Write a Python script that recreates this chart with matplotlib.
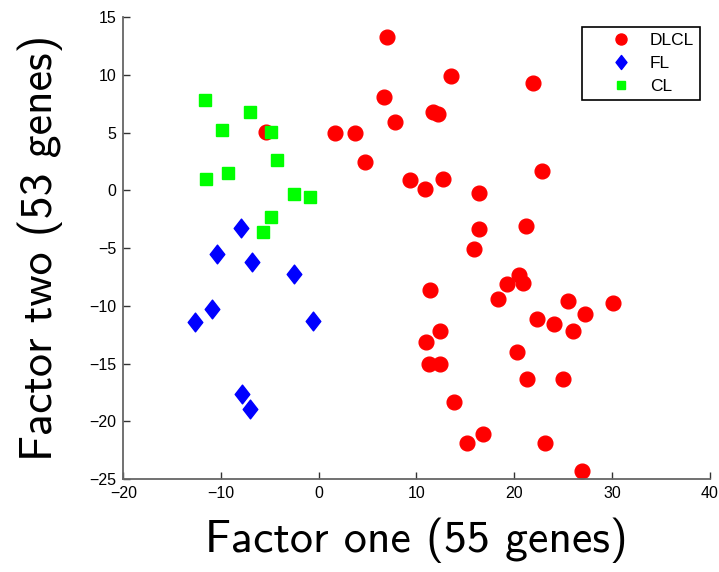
import matplotlib
matplotlib.use("Agg")
import matplotlib.pyplot as plt
from matplotlib.path import Path

# sample scores on the two factors, one pair of lists per class
dlcl_x = [-5.4, 6.96, 13.57, 21.9, 6.72, 11.73, 12.24, 7.78, 1.7, 3.72, 4.77,
          22.8, 9.38, 10.9, 12.7, 16.4, 16.4, 21.2, 15.9, 11.36, 20.47, 19.3,
          20.94, 18.3, 22.3, 24.1, 12.4, 10.95, 11.3, 12.45, 20.27, 21.3,
          13.88, 16.8, 15.15, 23.16, 25.55, 30.1, 27.2, 26.06, 24.97, 26.95]
dlcl_y = [5.06, 13.27, 9.92, 9.31, 8.1, 6.77, 6.63, 5.96, 4.94, 4.98, 2.46,
          1.68, 0.9, 0.09, 1.01, -0.2, -3.32, -3.09, -5.1, -8.64, -7.31, -8.12,
          -8.03, -9.39, -11.13, -11.6, -12.2, -13.15, -15.06, -15.06, -13.96,
          -16.36, -18.3, -21.1, -21.9, -21.9, -9.62, -9.71, -10.67, -12.17,
          -16.36, -24.3]

fl_x = [-8.0, -10.4, -6.86, -2.56, -10.9, -12.7, -0.55, -7.9, -7.0]
fl_y = [-3.24, -5.49, -6.16, -7.25, -10.23, -11.39, -11.27, -17.66, -18.93]

cl_x = [-11.6, -7.0, -9.9, -4.9, -4.27, -11.5, -9.3, -2.56, -0.92, -4.9, -5.7]
cl_y = [7.86, 6.8, 5.26, 5.05, 2.66, 1.0, 1.47, -0.29, -0.6, -2.28, -3.58]

x_ticks = [-20, -10, 0, 10, 20, 30, 40]
y_ticks = [-25, -20, -15, -10, -5, 0, 5, 10, 15]

plt.rcParams["font.family"] = ["Liberation Sans", "DejaVu Sans"]

# taller-than-wide diamond
diamond = Path([(0, 1), (0.78, 0), (0, -1), (-0.78, 0), (0, 1)],
               [Path.MOVETO, Path.LINETO, Path.LINETO, Path.LINETO, Path.CLOSEPOLY])

fig = plt.figure(figsize=(7.19, 5.72), dpi=100)
ax = fig.add_axes([0.1715, 0.1626, 0.8155, 0.8072])

ax.plot(dlcl_x, dlcl_y, "o", color="#ff0000", markersize=10.6, label="DLCL")
ax.plot(fl_x, fl_y, linestyle="none", marker=diamond, color="#0000ff",
        markersize=13.5, label="FL")
ax.plot(cl_x, cl_y, "s", color="#00ff00", markersize=8.6, label="CL")

ax.set_xlim(-20, 40)
ax.set_ylim(-25, 15)
ax.set_xticks(x_ticks)
ax.set_yticks(y_ticks)

for side in ["top", "right"]:
    ax.spines[side].set_visible(False)
for side in ["left", "bottom"]:
    ax.spines[side].set_color("#666666")
    ax.spines[side].set_linewidth(1.3)
ax.tick_params(direction="in", length=5, width=1, color="#333333",
               labelsize=11.5, pad=5)

# axis titles in Computer Modern sans (bundled with matplotlib)
ax.set_xlabel("Factor one (55 genes)", family="cmss10", fontsize=33, labelpad=12)
ax.set_ylabel("Factor two (53 genes)", family="cmss10", fontsize=33, labelpad=19)

leg = ax.legend(loc="upper right", fontsize=12.5, markerscale=0.75,
                fancybox=False, framealpha=1, edgecolor="black",
                borderaxespad=0.55, handletextpad=-0.25, labelspacing=0.45,
                borderpad=0.35, handlelength=3.8)
leg.get_frame().set_linewidth(1.2)

fig.savefig("out.png", dpi=100)
